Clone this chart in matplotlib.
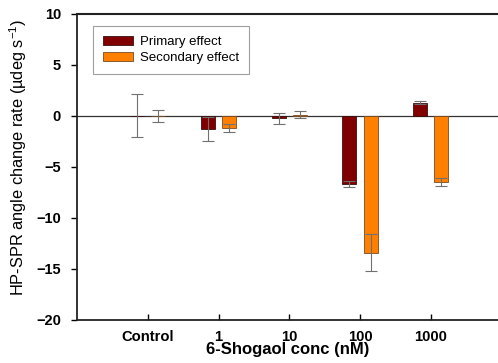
import matplotlib
matplotlib.use("Agg")
import matplotlib.pyplot as plt
import numpy as np

categories = ["Control", "1", "10", "100", "1000"]
primary = [0.0, -1.3, -0.25, -6.7, 1.3]
primary_err = [2.1, 1.2, 0.57, 0.3, 0.12]
secondary = [0.0, -1.15, 0.13, -13.4, -6.5]
secondary_err = [0.6, 0.4, 0.3, 1.8, 0.4]

plt.rcParams['font.family'] = ['Liberation Sans', 'DejaVu Sans']
plt.rcParams['mathtext.fontset'] = 'custom'
plt.rcParams['mathtext.rm'] = 'Liberation Sans'
plt.rcParams['mathtext.default'] = 'regular'

fig = plt.figure(figsize=(4.98, 3.63), dpi=100)
ax = fig.add_axes([0.1546, 0.1185, 0.8454, 0.8435])

x = np.arange(len(categories))
w = 0.2
off = 0.15
ax.bar(x - off, primary, w, color='#800000', edgecolor='#3a1010', linewidth=0.6,
       label='Primary effect', zorder=2)
ax.bar(x + off, secondary, w, color='#FF8000', edgecolor='#7a4a20', linewidth=0.6,
       label='Secondary effect', zorder=2)
ax.errorbar(x - off, primary, yerr=primary_err, fmt='none', ecolor='#707070',
            elinewidth=0.8, capsize=4, capthick=0.8, zorder=3)
ax.errorbar(x + off, secondary, yerr=secondary_err, fmt='none', ecolor='#707070',
            elinewidth=0.8, capsize=4, capthick=0.8, zorder=3)
ax.axhline(0, color='#333333', linewidth=0.9, zorder=1)
ax.axhline(10, color='#222222', linewidth=1.5, zorder=6, clip_on=False)

ax.set_xlim(-1, 4.95)
ax.set_ylim(-20, 10)
ax.set_yticks([-20, -15, -10, -5, 0, 5, 10])
ax.set_xticks(x)
ax.set_xticklabels(categories)
ax.tick_params(axis='x', direction='in', length=4, width=1, labelsize=10.6, pad=7)
ax.tick_params(axis='y', direction='out', length=4.5, width=1, labelsize=10.5, pad=7)
for lbl in ax.get_xticklabels() + ax.get_yticklabels():
    lbl.set_fontweight('bold')
ax.spines['right'].set_visible(False)
for s in ['left', 'bottom', 'top']:
    ax.spines[s].set_visible(True)
    ax.spines[s].set_linewidth(1.3)
    ax.spines[s].set_color('#222222')
    ax.spines[s].set_zorder(5)

ax.set_ylabel('HP-SPR angle change rate (µdeg s$^{-1}$)', fontsize=11.8,
              fontweight='normal')
ax.yaxis.set_label_coords(-0.113, 0.53)
ax.set_xlabel('6-Shogaol conc (nM)', fontsize=12, fontweight='bold', labelpad=-1)

leg = ax.legend(loc='upper left', bbox_to_anchor=(0.038, 0.961), borderaxespad=0,
                fontsize=9.5, frameon=True, fancybox=False, edgecolor='#888888',
                handlelength=2.3, handleheight=0.7, handletextpad=0.5,
                borderpad=0.75, labelspacing=0.3)
leg.get_frame().set_linewidth(0.8)

fig.savefig('out.png', dpi=100)
